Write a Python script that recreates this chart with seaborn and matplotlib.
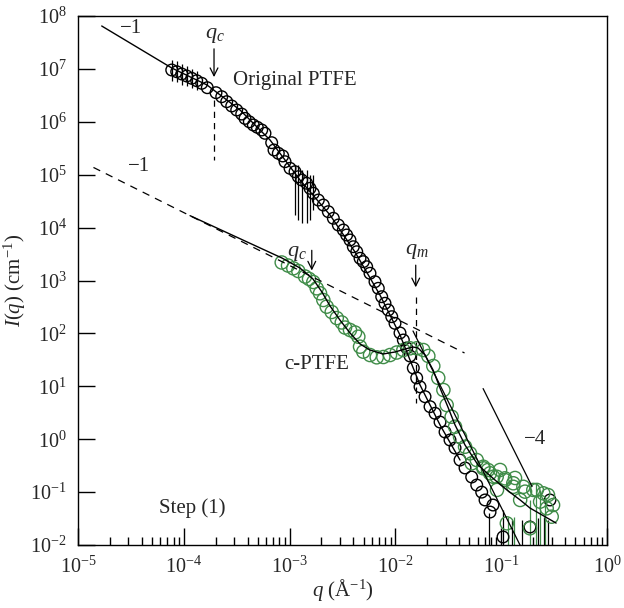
import numpy as np
import matplotlib
matplotlib.use("Agg")
import matplotlib.pyplot as plt
import seaborn as sns

# ---- measured scattering curves ----
ptfe_q = [7.69e-5, 8.57e-5, 9.55e-5, 1.065e-4, 1.188e-4, 1.324e-4, 1.476e-4, 1.667e-4,
          2.015e-4, 2.282e-4, 2.544e-4, 2.836e-4, 3.162e-4, 3.525e-4, 3.787e-4, 4.16e-4,
          4.54e-4, 4.95e-4, 5.45e-4, 5.85e-4, 6.77e-4, 7.12e-4, 7.82e-4, 8.61e-4, 9.05e-4,
          1.009e-3, 1.125e-3, 1.208e-3, 1.301e-3, 1.451e-3, 1.559e-3, 1.675e-3, 1.868e-3,
          2.083e-3, 2.322e-3, 2.589e-3, 2.887e-3, 3.22e-3, 3.46e-3, 3.72e-3, 4.0e-3, 4.31e-3,
          4.63e-3, 4.97e-3, 5.35e-3, 5.75e-3, 6.41e-3, 6.89e-3, 7.42e-3, 7.97e-3, 8.57e-3,
          9.23e-3, 9.91e-3, 1.105e-2, 1.188e-2, 1.279e-2, 1.374e-2, 1.476e-2, 1.589e-2,
          1.708e-2, 1.905e-2, 2.124e-2, 2.369e-2, 2.641e-2, 2.944e-2, 3.28e-2, 3.66e-2,
          4.08e-2, 4.55e-2, 5.26e-2, 5.87e-2, 6.54e-2, 7.03e-2, 7.84e-2, 8.36e-2, 0.104,
          0.187, 0.289]
ptfe_I = [9.53e6, 8.85e6, 8.01e6, 7.34e6, 6.64e6, 5.98e6, 5.34e6, 4.41e6,
          3.55e6, 2.98e6, 2.40e6, 1.99e6, 1.67e6, 1.40e6, 1.16e6, 1.00e6,
          8.7e5, 7.87e5, 7.0e5, 6.06e5, 4.03e5, 2.93e5, 2.54e5, 2.26e5, 1.76e5,
          1.32e5, 1.14e5, 9.17e4, 7.94e4, 6.88e4, 5.53e4, 4.45e4, 3.32e4,
          2.67e4, 2.0e4, 1.50e4, 1.12e4, 9.0e3, 7.25e3, 5.83e3, 4.35e3, 3.50e3,
          2.63e3, 2.27e3, 1.82e3, 1.37e3, 949, 712, 494, 371, 277,
          207, 155, 102, 75, 53, 37.4, 22.2, 14.4,
          9.8, 6.36, 4.12, 3.09, 2.11, 1.37, 0.966, 0.682,
          0.404, 0.286, 0.193, 0.136, 0.100, 0.071, 0.042, 0.057, 0.0142,
          0.0219, 0.071]

cptfe_q = [8.42e-4, 9.66e-4, 1.084e-3, 1.208e-3, 1.399e-3, 1.526e-3, 1.675e-3, 1.804e-3,
           1.938e-3, 2.083e-3, 2.243e-3, 2.50e-3, 2.79e-3, 3.11e-3, 3.34e-3, 3.72e-3,
           4.15e-3, 4.46e-3, 4.63e-3, 4.97e-3, 5.75e-3, 6.66e-3, 7.69e-3, 8.89e-3,
           1.028e-2, 1.188e-2, 1.374e-2, 1.589e-2, 1.835e-2, 2.047e-2, 2.28e-2, 2.54e-2,
           2.84e-2, 3.05e-2, 3.40e-2, 3.66e-2, 4.08e-2, 4.55e-2, 5.07e-2, 5.87e-2,
           6.77e-2, 7.84e-2, 9.06e-2, 0.1086, 0.130, 0.162, 0.201, 0.250,
           0.0526, 0.0677, 0.0841, 0.1086, 0.130, 0.168, 0.217, 0.233, 0.269, 0.300,
           0.187, 0.113, 0.0750, 0.0975, 0.135, 0.277, 0.309, 0.151, 0.0912]
cptfe_I = [2190, 1920, 1700, 1510, 1190, 1070, 937, 712,
           573, 428, 320, 254, 195, 161, 129, 116,
           104, 86.6, 56.1, 45.1, 39.0, 35.3, 35.8, 39.0,
           43.5, 48.5, 52.3, 52.3, 48.5, 37.4, 24.2, 14.4,
           8.51, 4.43, 2.66, 1.72, 1.11, 0.721, 0.541, 0.404,
           0.302, 0.227, 0.195, 0.169, 0.147, 0.126, 0.110, 0.0949,
           0.350, 0.282, 0.195, 0.182, 0.126, 0.102, 0.110, 0.0659, 0.0494, 0.0343,
           0.0207, 0.0257, 0.262, 0.262, 0.185, 0.088, 0.057, 0.071, 0.110]

# ---- model fits ----
ptfe_fit_q = [1.675e-5, 7.69e-5, 1.655e-4, 3.4e-4, 6.53e-4, 1.253e-3, 2.41e-3, 4.15e-3,
              7.14e-3, 1.105e-2, 1.708e-2, 2.64e-2, 4.08e-2]
ptfe_fit_I = [6.47e7, 1.04e7, 4.97e6, 1.67e6, 4.53e5, 7.94e4, 1.73e4, 3460,
              532, 93.3, 10.6, 1.86, 0.404]

cptfe_fit_q = [1.146e-4, 8.47e-4, 1.253e-3, 1.663e-3, 2.02e-3, 2.41e-3, 2.99e-3, 3.72e-3,
               4.63e-3, 5.75e-3, 7.63e-3, 9.91e-3, 1.233e-2, 1.466e-2, 1.636e-2, 1.905e-2,
               2.27e-2, 2.64e-2, 3.08e-2, 3.66e-2, 4.55e-2, 6.04e-2, 8.74e-2, 0.113,
               0.151, 0.187, 0.330]
cptfe_fit_I = [1.68e4, 2660, 1720, 1067, 607, 330, 179, 102,
               63.1, 48.5, 40.8, 44.5, 50.7, 55.3, 53.0, 39.1,
               20.3, 9.29, 4.43, 1.86, 0.776, 0.325, 0.169, 0.110,
               0.071, 0.050, 0.026]

# power-law guides: I = amplitude * q**slope
guide_low_q = [1.4e-5, 4.5e-2]
guide_low_amp, guide_low_slope = 1.92, -1
porod_q = [1.466e-2, 0.16]
porod_amp, porod_slope = 5.13e-6, -4
marker4_q = [0.0674, 0.1956]
marker4_amp, marker4_slope = 1.87e-4, -4

# ---- error bars (lower, upper) ----
ptfe_bar_q = [7.69e-5, 8.57e-5, 9.55e-5, 1.065e-4, 1.188e-4, 1.324e-4,
              1.125e-3, 1.208e-3, 1.301e-3, 1.451e-3, 1.559e-3, 1.675e-3,
              0.0767, 0.104, 0.1265, 0.157, 0.223, 0.254, 0.277]
ptfe_bar_lo = [6.0e6, 5.6e6, 5.0e6, 4.7e6, 4.3e6, 4.0e6,
               1.73e4, 1.39e4, 1.22e4, 1.22e4, 1.39e4, 2.15e4,
               1e-3, 1e-3, 1e-3, 1e-3, 1e-3, 1e-3, 1e-3]
ptfe_bar_hi = [1.5e7, 1.4e7, 1.25e7, 1.15e7, 1.0e7, 9.0e6,
               1.52e5, 1.52e5, 1.23e5, 1.23e5, 9.87e4, 9.87e4,
               0.040, 0.045, 0.0297, 0.0297, 0.032, 0.034, 0.030]
cptfe_bar_q = [0.116, 0.132, 0.187, 0.213, 0.232, 0.259]
cptfe_bar_lo = [1e-3, 1e-3, 1e-3, 1e-3, 1e-3, 1e-3]
cptfe_bar_hi = [0.0335, 0.034, 0.071, 0.149, 0.110, 0.071]

# axis decades
x_decades = [1e-5, 1e-4, 1e-3, 1e-2, 1e-1, 1e0]
y_decades = [1e-2, 1e-1, 1e0, 1e1, 1e2, 1e3, 1e4, 1e5, 1e6, 1e7, 1e8]

GREEN = "#3f8c48"

sns.set_theme(style="ticks")
plt.rcParams["font.family"] = ["Liberation Serif", "DejaVu Serif"]
plt.rcParams["mathtext.fontset"] = "custom"
plt.rcParams["mathtext.rm"] = "Liberation Serif"
plt.rcParams["mathtext.it"] = "Liberation Serif:italic"
plt.rcParams["axes.unicode_minus"] = True

fig = plt.figure(figsize=(6.24, 6.08), dpi=100)
ax = fig.add_axes([0.125, 0.1036, 0.8478, 0.8701])
ax.set(xscale="log", yscale="log")

# error bars
ax.vlines(ptfe_bar_q, ptfe_bar_lo, ptfe_bar_hi, color="black", lw=0.9, zorder=2)
ax.vlines(cptfe_bar_q, cptfe_bar_lo, cptfe_bar_hi, color=GREEN, lw=0.9, zorder=2)

# data
sns.scatterplot(x=ptfe_q, y=ptfe_I, ax=ax, marker="o", s=70, facecolor="none",
                edgecolor="black", linewidth=1.0, zorder=3)
sns.scatterplot(x=cptfe_q, y=cptfe_I, ax=ax, marker="o", s=90, facecolor="none",
                edgecolor=GREEN, linewidth=1.0, zorder=3)

# fits
sns.lineplot(x=ptfe_fit_q, y=ptfe_fit_I, ax=ax, sort=False, estimator=None,
             color="black", lw=1.0, zorder=4)
sns.lineplot(x=cptfe_fit_q, y=cptfe_fit_I, ax=ax, sort=False, estimator=None,
             color="black", lw=1.0, zorder=4)

# power-law guides
gq = np.array(guide_low_q)
ax.plot(gq, guide_low_amp * gq ** guide_low_slope, color="black", lw=0.9,
        ls=(0, (6, 5)), zorder=4)
pq = np.array(porod_q)
ax.plot(pq, porod_amp * pq ** porod_slope, color="black", lw=0.9, zorder=4)
mq = np.array(marker4_q)
ax.plot(mq, marker4_amp * mq ** marker4_slope, color="black", lw=0.9, zorder=4)

# characteristic q markers
arrowprops = dict(arrowstyle="->", color="black", lw=0.9, mutation_scale=14)
ax.annotate("", xy=(1.93e-4, 6.2e6), xytext=(1.93e-4, 2.7e7), arrowprops=arrowprops)
ax.plot([1.93e-4, 1.93e-4], [2.6e6, 1.9e5], color="black", lw=0.9, ls=(0, (5, 4)))
ax.text(1.95e-4, 4.2e7, r"$q_c$", fontsize=16, ha="center", va="center")

ax.annotate("", xy=(1.62e-3, 1.37e3), xytext=(1.62e-3, 4.2e3), arrowprops=arrowprops)
ax.text(1.17e-3, 3.3e3, r"$q_c$", fontsize=16, ha="center", va="center")

ax.annotate("", xy=(1.556e-2, 660), xytext=(1.556e-2, 2.2e3), arrowprops=arrowprops)
ax.plot([1.556e-2, 1.556e-2], [494, 4.8], color="black", lw=0.9, ls=(0, (5, 4)))
ax.text(1.59e-2, 3.6e3, r"$q_m$", fontsize=16, ha="center", va="center")

# labels
ax.text(3.2e-5, 5.9e7, "\u22121", fontsize=15, ha="center", va="center")
ax.text(3.75e-5, 1.42e5, "\u22121", fontsize=15, ha="center", va="center")
ax.text(0.208, 0.97, "\u22124", fontsize=15, ha="center", va="center")
ax.text(2.9e-4, 6.1e6, "Original PTFE", fontsize=15, ha="left", va="center")
ax.text(1.8e-3, 25.3, "c-PTFE", fontsize=15, ha="center", va="center")
ax.text(1.19e-4, 0.0494, "Step (1)", fontsize=15, ha="center", va="center")

ax.set_xlim(1e-5, 1)
ax.set_ylim(1e-2, 1e8)
ax.set_xlabel(r"$q$ (Å$^{-1}$)", fontsize=15, labelpad=0)
ax.set_ylabel(r"$I(q)$ (cm$^{-1}$)", fontsize=15, labelpad=2)

ax.xaxis.set_major_locator(matplotlib.ticker.FixedLocator(x_decades))
ax.xaxis.set_minor_locator(matplotlib.ticker.LogLocator(base=10, subs=np.arange(2, 10), numticks=20))
ax.xaxis.set_minor_formatter(matplotlib.ticker.NullFormatter())
ax.yaxis.set_major_locator(matplotlib.ticker.FixedLocator(y_decades))
ax.yaxis.set_minor_locator(matplotlib.ticker.NullLocator())
ax.tick_params(axis="both", which="major", direction="in", length=12, width=1,
               labelsize=14.5, pad=8, top=False, right=False, color="black")
ax.tick_params(axis="x", which="minor", direction="in", length=6, width=1,
               top=False, color="black")
for sp in ax.spines.values():
    sp.set_visible(True)
    sp.set_linewidth(1.0)
    sp.set_color("black")

fig.savefig("out.png", dpi=100)
